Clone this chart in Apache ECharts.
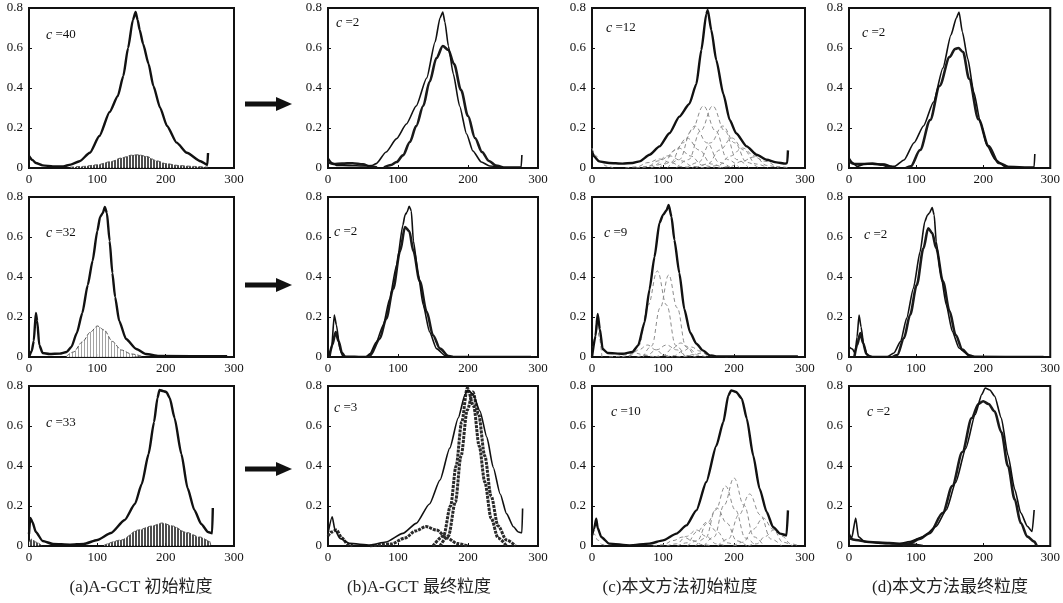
<!DOCTYPE html>
<html>
<head>
<meta charset="utf-8">
<title>粒度对比</title>
<script src="https://cdn.jsdelivr.net/npm/echarts@6/dist/echarts.min.js"></script>
<style>
  html, body { margin: 0; padding: 0; background: #fff; }
  #chart { width: 1063px; height: 603px; }
</style>
</head>
<body>
<div id="chart"></div>
<script>
// ---- data ----
var xTicks = [0, 100, 200, 300];
var yTicks = [0, 0.2, 0.4, 0.6, 0.8];
var cLabels = ['40', '2', '12', '2', '32', '2', '9', '2', '33', '3', '10', '2'];
var captions = ['(a)A-GCT 初始粒度', '(b)A-GCT 最终粒度', '(c)本文方法初始粒度', '(d)本文方法最终粒度'];

// row 1
var histA1 = [[0,0.06],[5,0.04],[10,0.025],[20,0.013],[35,0.008],[50,0.008],[61,0.017],[74,0.034],[89,0.076],[103,0.16],[118,0.28],[130,0.36],[138,0.46],[145,0.6],[152,0.74],[156,0.78],[159,0.74],[162,0.69],[167,0.62],[175,0.52],[182,0.41],[192,0.30],[202,0.21],[216,0.127],[231,0.076],[251,0.034],[261,0.015],[262,0.075]];
var envA1 = [[60,0.004],[80,0.008],[100,0.016],[120,0.032],[135,0.05],[150,0.064],[160,0.066],[172,0.058],[187,0.036],[200,0.022],[220,0.012],[240,0.008],[262,0.004]];

var histB1 = [[0,0.05],[6,0.025],[12,0.013],[30,0.012],[50,0.01],[62,0.012],[69,0.022],[83,0.08],[98,0.147],[112,0.22],[126,0.31],[141,0.45],[153,0.63],[160,0.75],[164,0.78],[167,0.73],[172,0.61],[179,0.47],[188,0.31],[198,0.17],[207,0.085],[219,0.03],[231,0.01],[250,0.005],[276,0.005],[277,0.065]];
var fitB1 = [[80,0.003],[90,0.015],[98,0.03],[107,0.063],[117,0.13],[126,0.21],[136,0.31],[145,0.43],[155,0.55],[164,0.61],[172,0.59],[180,0.52],[190,0.39],[200,0.26],[210,0.15],[220,0.08],[230,0.035],[240,0.012],[250,0.003]];
var smallB1 = [[0,0.03],[8,0.02],[20,0.022],[35,0.024],[50,0.018],[60,0.008],[70,0.002]];

var histC1 = [[0,0.083],[3,0.058],[10,0.033],[24,0.025],[43,0.022],[57,0.025],[67,0.033],[81,0.066],[95,0.108],[109,0.174],[123,0.257],[137,0.32],[147,0.42],[154,0.59],[161,0.77],[163,0.79],[168,0.69],[175,0.54],[185,0.37],[194,0.24],[203,0.174],[218,0.108],[232,0.066],[246,0.041],[260,0.028],[272,0.022],[275,0.025],[276,0.088]];
var compsC1 = [
  [[0,0.1],[6,0.06],[12,0.03],[20,0.01],[30,0]],
  [[47,0],[63,0.006],[79,0.027],[95,0.045],[111,0.027],[127,0.006],[143,0]],
  [[62,0],[78,0.008],[94,0.036],[110,0.06],[126,0.036],[142,0.008],[158,0]],
  [[71,0],[88,0.013],[105,0.06],[122,0.10],[139,0.06],[156,0.013],[173,0]],
  [[83,0],[100,0.02],[117,0.09],[134,0.15],[151,0.09],[168,0.02],[185,0]],
  [[94,0],[111,0.028],[128,0.126],[145,0.21],[162,0.126],[179,0.028],[196,0]],
  [[106,0],[123,0.042],[140,0.186],[157,0.31],[174,0.186],[191,0.042],[208,0]],
  [[119,0],[136,0.042],[153,0.186],[170,0.31],[187,0.186],[204,0.042],[221,0]],
  [[133,0],[150,0.028],[167,0.126],[184,0.21],[201,0.126],[218,0.028],[235,0]],
  [[146,0],[163,0.02],[180,0.09],[197,0.15],[214,0.09],[231,0.02],[248,0]],
  [[161,0],[178,0.013],[195,0.06],[212,0.10],[229,0.06],[246,0.013],[263,0]],
  [[177,0],[194,0.007],[211,0.033],[228,0.055],[245,0.033],[262,0.007],[279,0]]
];

var histD1 = [[0,0.05],[6,0.025],[12,0.008],[24,0.02],[40,0.02],[53,0.02],[62,0.01],[68,0.008],[82,0.04],[97,0.126],[111,0.21],[126,0.33],[140,0.5],[152,0.665],[160,0.75],[164,0.78],[169,0.68],[177,0.547],[186,0.38],[196,0.227],[206,0.11],[218,0.042],[232,0.008],[276,0.005],[277,0.07]];
var fitD1 = [[85,0],[92,0.008],[106,0.09],[121,0.24],[135,0.41],[150,0.555],[158,0.595],[163,0.60],[170,0.58],[179,0.446],[193,0.244],[208,0.11],[223,0.025],[237,0.003]];
var smallD1 = [[0,0.035],[8,0.02],[20,0.02],[35,0.022],[50,0.016],[60,0.006],[68,0]];

// row 2
var histA2 = [[0,0],[4,0.03],[7,0.08],[10,0.22],[12,0.18],[15,0.06],[20,0.02],[30,0.015],[45,0.017],[55,0.025],[62,0.05],[70,0.12],[78,0.22],[86,0.36],[93,0.48],[100,0.63],[104,0.70],[108,0.72],[111,0.75],[114,0.72],[118,0.58],[122,0.42],[126,0.30],[132,0.18],[142,0.09],[157,0.04],[171,0.015],[190,0.005],[290,0.004]];
var envA2 = [[55,0.004],[65,0.025],[78,0.075],[90,0.125],[100,0.155],[110,0.135],[122,0.078],[135,0.035],[150,0.015],[165,0.004]];

var histB2 = [[0,0],[5,0.04],[9,0.21],[12,0.16],[17,0.04],[21,0.005],[55,0.002],[60,0.017],[69,0.075],[79,0.16],[88,0.29],[98,0.46],[107,0.66],[110,0.71],[113,0.725],[116,0.754],[119,0.73],[122,0.58],[129,0.41],[136,0.26],[145,0.126],[155,0.042],[167,0.008],[174,0.002],[290,0.002]];
var fitB2 = [[55,0],[60,0.008],[74,0.092],[83,0.19],[93,0.34],[103,0.53],[110,0.65],[116,0.63],[122,0.53],[131,0.38],[141,0.226],[150,0.109],[160,0.042],[172,0.005],[178,0]];
var smallB2 = [[2,0],[6,0.06],[11,0.125],[15,0.08],[20,0.02],[24,0]];

var histC2 = [[0,0],[5,0.107],[8,0.215],[11,0.14],[15,0.04],[22,0.02],[43,0.016],[57,0.025],[65,0.058],[74,0.173],[81,0.338],[88,0.5],[95,0.67],[100,0.71],[105,0.734],[108,0.76],[112,0.70],[116,0.586],[123,0.42],[130,0.24],[138,0.124],[147,0.066],[156,0.033],[166,0.008],[175,0.003],[290,0.003]];
var compsC2 = [
  [[0,0],[4,0.1],[7,0.2],[10,0.1],[14,0]],
  [[53,0],[66,0.058],[79,0.26],[92,0.43],[105,0.26],[118,0.058],[131,0]],
  [[72,0],[84,0.055],[96,0.246],[108,0.41],[120,0.246],[132,0.055],[144,0]],
  [[42,0],[54,0.008],[66,0.036],[78,0.06],[90,0.036],[102,0.008],[114,0]],
  [[63,0],[77,0.008],[91,0.036],[105,0.06],[119,0.036],[133,0.008],[147,0]],
  [[89,0],[101,0.009],[113,0.042],[125,0.07],[137,0.042],[149,0.009],[161,0]],
  [[104,0],[116,0.007],[128,0.03],[140,0.05],[152,0.03],[164,0.007],[176,0]],
  [[24,0],[36,0.003],[48,0.012],[60,0.02],[72,0.012],[84,0.003],[96,0]],
  [[119,0],[131,0.003],[143,0.012],[155,0.02],[167,0.012],[179,0.003],[191,0]]
];

var histD2 = [[0,0.05],[5,0.04],[9,0.02],[12,0.1],[15,0.21],[18,0.15],[22,0.06],[27,0.01],[35,0.002],[57,0.002],[67,0.02],[77,0.078],[86,0.195],[96,0.344],[106,0.527],[113,0.677],[117,0.71],[120,0.72],[124,0.747],[127,0.71],[130,0.577],[137,0.41],[145,0.26],[154,0.128],[164,0.045],[174,0.02],[181,0.003],[290,0.002]];
var fitD2 = [[65,0],[72,0.01],[82,0.095],[91,0.21],[101,0.36],[111,0.544],[118,0.644],[124,0.62],[130,0.544],[140,0.378],[150,0.228],[159,0.11],[169,0.037],[179,0.008],[186,0]];
var smallD2 = [[8,0],[12,0.06],[17,0.12],[21,0.07],[26,0.015],[30,0]];

// row 3
var histA3 = [[0,0.06],[2,0.14],[5,0.12],[10,0.07],[20,0.025],[35,0.01],[60,0.007],[80,0.01],[100,0.03],[120,0.065],[140,0.13],[155,0.21],[165,0.31],[175,0.46],[183,0.62],[188,0.74],[191,0.78],[196,0.775],[201,0.77],[206,0.74],[213,0.64],[223,0.46],[232,0.29],[242,0.18],[252,0.11],[262,0.07],[268,0.063],[269,0.19]];
var envA3 = [[110,0.004],[135,0.03],[160,0.08],[180,0.1],[195,0.115],[210,0.1],[230,0.068],[250,0.045],[264,0.025],[266,0.004]];
var envA3b = [[0,0.02],[4,0.035],[10,0.02],[18,0.004]];

var histB3 = [[0,0.063],[6,0.146],[10,0.08],[17,0.038],[31,0.013],[60,0.005],[83,0.02],[107,0.063],[126,0.113],[145,0.21],[160,0.33],[174,0.49],[186,0.64],[196,0.76],[200,0.78],[207,0.76],[217,0.675],[227,0.543],[236,0.394],[246,0.26],[255,0.162],[265,0.096],[272,0.07],[277,0.066],[278,0.187]];
var fitB3a = [[150,0],[165,0.05],[175,0.2],[183,0.4],[191,0.62],[199,0.79],[208,0.7],[216,0.5],[224,0.32],[233,0.14],[243,0.04],[255,0]];
var fitB3b = [[160,0],[172,0.05],[182,0.22],[190,0.45],[199,0.68],[207,0.77],[215,0.66],[224,0.45],[233,0.25],[243,0.1],[255,0.03],[268,0]];
var fitB3c = [[60,0],[90,0.01],[110,0.04],[125,0.075],[140,0.097],[155,0.08],[170,0.04],[185,0.012],[200,0]];
var fitB3d = [[0,0.05],[5,0.07],[12,0.08],[20,0.04],[28,0.01],[35,0]];

var histC3 = [[0,0.053],[3,0.087],[6,0.137],[8,0.09],[13,0.045],[24,0.012],[53,0.003],[81,0.012],[100,0.028],[119,0.062],[133,0.103],[147,0.178],[161,0.32],[175,0.5],[185,0.62],[192,0.753],[196,0.778],[203,0.77],[211,0.737],[218,0.637],[227,0.453],[236,0.287],[246,0.17],[255,0.095],[265,0.062],[274,0.053],[276,0.178]];
var compsC3 = [
  [[0,0.06],[3,0.06],[8,0.03],[14,0.008],[20,0]],
  [[86,0],[100,0.006],[114,0.027],[128,0.045],[142,0.027],[156,0.006],[170,0]],
  [[105,0],[119,0.011],[133,0.048],[147,0.08],[161,0.048],[175,0.011],[189,0]],
  [[120,0],[134,0.016],[148,0.072],[162,0.12],[176,0.072],[190,0.016],[204,0]],
  [[134,0],[148,0.026],[162,0.114],[176,0.19],[190,0.114],[204,0.026],[218,0]],
  [[146,0],[160,0.04],[174,0.18],[188,0.30],[202,0.18],[216,0.04],[230,0]],
  [[158,0],[172,0.046],[186,0.204],[200,0.34],[214,0.204],[228,0.046],[242,0]],
  [[177,0],[192,0.035],[207,0.156],[222,0.26],[237,0.156],[252,0.035],[267,0]],
  [[199,0],[213,0.019],[227,0.084],[241,0.14],[255,0.084],[269,0.019],[283,0]],
  [[220,0],[232,0.011],[244,0.048],[256,0.08],[268,0.048],[280,0.011],[292,0]]
];

var histD3 = [[0,0.064],[4,0.04],[10,0.14],[14,0.047],[23,0.022],[48,0.013],[72,0.01],[91,0.022],[111,0.047],[130,0.098],[145,0.18],[159,0.318],[174,0.487],[188,0.656],[198,0.758],[203,0.79],[210,0.78],[217,0.75],[227,0.64],[237,0.453],[247,0.284],[256,0.166],[266,0.098],[273,0.073],[276,0.18]];
var fitD3 = [[80,0],[91,0.013],[105,0.035],[120,0.064],[140,0.166],[154,0.3],[169,0.47],[183,0.64],[193,0.71],[200,0.724],[208,0.71],[217,0.673],[227,0.57],[237,0.4],[247,0.233],[256,0.115],[266,0.047],[276,0.022],[280,0]];
var smallD3 = [[0,0.04],[10,0.03],[30,0.02],[60,0.015],[90,0.008],[110,0]];

// ---- layout ----
var colLeft = [29, 328, 592, 849];
var colWidth = [205, 210, 213, 208];
var rowTop = [8, 197, 386];
var rowHeight = 160;
var labelPos = [[46,35],[336,23],[606,28],[862,33],[46,233],[334,232],[604,233],[864,235],[46,423],[334,408],[611,412],[867,412]];
var arrowY = [104, 285, 469];
var captionX = [141, 419, 680, 950];

var serif = '"Liberation Serif", "DejaVu Serif", serif';
var cjk = '"Liberation Serif", "Noto Sans CJK SC", serif';

function makePattern(fg, w, h, stripe) {
    var c = document.createElement('canvas');
    c.width = w; c.height = h;
    var ctx = c.getContext('2d');
    ctx.fillStyle = '#fff';
    ctx.fillRect(0, 0, w, h);
    ctx.fillStyle = fg;
    ctx.fillRect(0, 0, stripe, h);
    return c;
}
var darkHatch = makePattern('#3a3a3a', 3, 4, 2);
var lightHatch = makePattern('#9a9a9a', 3, 4, 1);

var panels = [
    { hist: histA1, env: [envA1], hatch: darkHatch },
    { hist: histB1, fits: [fitB1, smallB1] },
    { hist: histC1, comps: compsC1 },
    { hist: histD1, fits: [fitD1, smallD1] },
    { hist: histA2, env: [envA2], hatch: lightHatch },
    { hist: histB2, fits: [fitB2, smallB2] },
    { hist: histC2, comps: compsC2 },
    { hist: histD2, fits: [fitD2, smallD2] },
    { hist: histA3, env: [envA3, envA3b], hatch: darkHatch },
    { hist: histB3, fits: [fitB3a, fitB3b, fitB3c, fitB3d], speckled: true },
    { hist: histC3, comps: compsC3 },
    { hist: histD3, fits: [fitD3, smallD3] }
];

var grids = [], xAxes = [], yAxes = [], series = [], graphics = [];

panels.forEach(function (p, i) {
    var r = Math.floor(i / 4), c = i % 4;
    grids.push({
        left: colLeft[c], top: rowTop[r], width: colWidth[c], height: rowHeight,
        show: true, borderColor: '#111', borderWidth: 2, backgroundColor: '#fff'
    });
    xAxes.push({
        type: 'value', gridIndex: i, min: xTicks[0], max: xTicks[xTicks.length - 1], interval: 100,
        axisLine: { show: false },
        axisTick: { inside: true, length: 3, lineStyle: { color: '#111' } },
        splitLine: { show: false },
        axisLabel: { margin: 5, color: '#111', fontFamily: serif, fontSize: 13 }
    });
    yAxes.push({
        type: 'value', gridIndex: i, min: yTicks[0], max: yTicks[yTicks.length - 1], interval: 0.2,
        axisLine: { show: false },
        axisTick: { inside: true, length: 3, lineStyle: { color: '#111' } },
        splitLine: { show: false },
        axisLabel: { margin: 6, color: '#111', fontFamily: serif, fontSize: 13 }
    });

    var base = { type: 'line', xAxisIndex: i, yAxisIndex: i, showSymbol: false, silent: true,
                 smooth: 0.3, smoothMonotone: 'x', animation: false };

    (p.env || []).forEach(function (e) {
        series.push(Object.assign({}, base, {
            data: e, z: 2,
            lineStyle: { color: '#555', width: 1, type: 'dashed' },
            areaStyle: { color: { image: p.hatch, repeat: 'repeat' }, opacity: 0.9 }
        }));
    });
    (p.comps || []).forEach(function (e) {
        series.push(Object.assign({}, base, {
            data: e, z: 2, smooth: 0.4,
            lineStyle: { color: '#8c8c8c', width: 1, type: [4, 3] }
        }));
    });
    (p.fits || []).forEach(function (e) {
        series.push(Object.assign({}, base, {
            data: e, z: 3,
            lineStyle: p.speckled
                ? { color: '#2a2a2a', width: 3, type: [3, 1] }
                : { color: '#1a1a1a', width: 2.6 }
        }));
    });
    series.push(Object.assign({}, base, {
        data: p.hist, z: 4, smooth: 0.2,
        lineStyle: { color: '#111', width: p.fits ? 1.6 : 2.4 }
    }));

    graphics.push({
        type: 'text', x: labelPos[i][0], y: labelPos[i][1], z: 10,
        style: {
            text: '{i|c} =' + cLabels[i], fill: '#111', fontFamily: serif, fontSize: 13,
            verticalAlign: 'middle',
            rich: { i: { fontStyle: 'italic', fontFamily: serif, fontSize: 14, fill: '#111' } }
        }
    });
});

arrowY.forEach(function (y) {
    graphics.push({ type: 'rect', shape: { x: 245, y: y - 2.5, width: 34, height: 5 }, style: { fill: '#111' } });
    graphics.push({ type: 'polygon', shape: { points: [[276, y - 7], [292, y], [276, y + 7]] }, style: { fill: '#111' } });
});

captions.forEach(function (t, k) {
    graphics.push({
        type: 'text', x: captionX[k], y: 588,
        style: { text: t, fill: '#222', fontFamily: cjk, fontSize: 17, textAlign: 'center', verticalAlign: 'middle' }
    });
});

var myChart = echarts.init(document.getElementById('chart'));
myChart.setOption({
    animation: false,
    backgroundColor: '#fff',
    grid: grids,
    xAxis: xAxes,
    yAxis: yAxes,
    series: series,
    graphic: graphics
});
</script>
</body>
</html>
